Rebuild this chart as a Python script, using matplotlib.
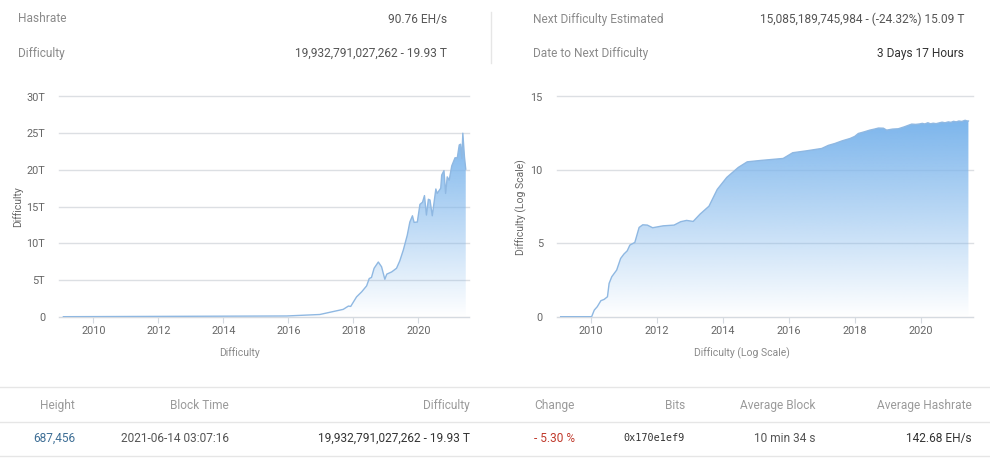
import numpy as np
import matplotlib
matplotlib.use('Agg')
import matplotlib.pyplot as plt

plt.rcParams['font.family'] = ['Roboto', 'DejaVu Sans']

W, H = 990, 461

# Difficulty in T
diff_years = [2009.08, 2015.95, 2016.97, 2017.38, 2017.69, 2017.85, 2017.92, 2018.1, 2018.26, 2018.41,
              2018.49, 2018.56, 2018.64, 2018.77, 2018.87, 2018.97, 2019.03, 2019.18, 2019.33, 2019.43,
              2019.54, 2019.66, 2019.74, 2019.82, 2019.87, 2019.97, 2020.05, 2020.13, 2020.19, 2020.25,
              2020.31, 2020.36, 2020.43, 2020.49, 2020.54, 2020.58, 2020.69, 2020.72, 2020.79, 2020.84,
              2020.89, 2020.95, 2021.03, 2021.13, 2021.2, 2021.26, 2021.3, 2021.34, 2021.37, 2021.42, 2021.46]
diff_values = [0.0, 0.1, 0.3, 0.7, 1.0, 1.45, 1.4, 2.7, 3.4, 4.2,
               5.2, 5.35, 6.6, 7.45, 6.8, 5.1, 5.8, 6.1, 6.6, 7.6,
               9.1, 11.1, 12.9, 13.75, 12.85, 12.9, 15.3, 15.6, 16.5, 13.85,
               16.0, 15.9, 13.75, 15.75, 17.4, 16.8, 17.5, 19.3, 19.9, 16.8,
               19.05, 18.6, 20.55, 21.65, 21.65, 23.4, 23.5, 21.55, 25.0, 21.8, 20.1]

# Difficulty, log scale
log_years = [2009.08, 2010.02, 2010.1, 2010.19, 2010.3, 2010.4, 2010.5, 2010.55, 2010.63, 2010.78,
             2010.9, 2011.0, 2011.1, 2011.18, 2011.33, 2011.46, 2011.57, 2011.71, 2011.87, 2012.19,
             2012.52, 2012.72, 2012.9, 2013.1, 2013.31, 2013.58, 2013.83, 2014.12, 2014.47, 2014.74,
             2015.13, 2015.83, 2016.12, 2016.54, 2017.0, 2017.2, 2017.4, 2017.62, 2017.86, 2018.0,
             2018.11, 2018.3, 2018.46, 2018.6, 2018.72, 2018.87, 2018.97, 2019.15, 2019.32, 2019.5,
             2019.62, 2019.73, 2019.85, 2019.97, 2020.05, 2020.13, 2020.22, 2020.3, 2020.38, 2020.47,
             2020.56, 2020.65, 2020.74, 2020.84, 2020.92, 2021.0, 2021.08, 2021.16, 2021.25, 2021.35,
             2021.4, 2021.45]
log_values = [0.0, 0.0, 0.45, 0.68, 1.09, 1.18, 1.36, 2.27, 2.72, 3.18,
              3.97, 4.27, 4.49, 4.88, 5.06, 6.08, 6.26, 6.24, 6.06, 6.19,
              6.24, 6.47, 6.56, 6.49, 6.99, 7.53, 8.67, 9.49, 10.17, 10.55,
              10.64, 10.78, 11.17, 11.3, 11.46, 11.67, 11.8, 11.98, 12.14, 12.28,
              12.48, 12.6, 12.71, 12.78, 12.85, 12.84, 12.71, 12.78, 12.8, 12.93,
              13.03, 13.12, 13.1, 13.13, 13.17, 13.13, 13.21, 13.14, 13.18, 13.15,
              13.2, 13.25, 13.21, 13.27, 13.24, 13.31, 13.27, 13.33, 13.3, 13.38,
              13.34, 13.33]

year_ticks = [2010, 2012, 2014, 2016, 2018, 2020]
diff_ticks = [0, 5, 10, 15, 20, 25, 30]
diff_labels = ['0', '5T', '10T', '15T', '20T', '25T', '30T']
log_ticks = [0, 5, 10, 15]

table_head = ['Height', 'Block Time', 'Difficulty', 'Change', 'Bits', 'Average Block', 'Average Hashrate']
table_row = ['687,456', '2021-06-14 03:07:16', '19,932,791,027,262 - 19.93 T', '- 5.30 %',
             '0x170e1ef9', '10 min 34 s', '142.68 EH/s']
table_right = [75, 229, 470, 575, 685, 816, 972]
row_colors = ['#3f6f96', '#555555', '#333333', '#c0392b', '#333333', '#555555', '#333333']

GRAY = '#8a8a8a'
BLUE = (124 / 255, 181 / 255, 236 / 255)


def px_axes(fig, left, right, top, bottom):
    return fig.add_axes([left / W, 1 - bottom / H, (right - left) / W, (bottom - top) / H])


def area_chart(ax, years, values, xlim, ylim, yticks, ylabels, xlabel, ylabel, xlabel_x, ylabel_x):
    ax.set_facecolor('none')
    # gradient goes from the top of the series down to the baseline
    grad = np.zeros((256, 1, 4))
    grad[..., 0], grad[..., 1], grad[..., 2] = BLUE
    grad[:, 0, 3] = np.linspace(1, 0, 256)
    im = ax.imshow(grad, extent=[years[0], years[-1], 0, max(values)], aspect='auto', zorder=2)
    poly = ax.fill_between(years, values, 0, facecolor='none', edgecolor='none')
    im.set_clip_path(poly.get_paths()[0], transform=ax.transData)
    ax.plot(years, values, color='#8fb8e2', lw=1.0, zorder=3)
    ax.set_xlim(*xlim)
    ax.set_ylim(*ylim)
    ax.set_xticks(year_ticks)
    ax.set_yticks(yticks)
    ax.set_yticklabels(ylabels)
    ax.grid(axis='y', color='#dcdfe3', lw=1)
    ax.set_axisbelow(True)
    # top gridline sits on the axes edge, don't cut it in half
    for line in ax.get_ygridlines():
        line.set_clip_on(False)
    for name in ['top', 'left', 'right']:
        ax.spines[name].set_visible(False)
    ax.spines['bottom'].set_color('#d5dae0')
    ax.tick_params(axis='x', length=4, color='#d5dae0', labelcolor='#666666', labelsize=7.8, pad=3)
    ax.tick_params(axis='y', length=0, labelcolor='#666666', labelsize=7.8, pad=10)
    ax.set_xlabel(xlabel, color=GRAY, fontsize=7.5)
    ax.set_ylabel(ylabel, color='#666666', fontsize=7.5)
    # label spots are given in pixels of the figure
    ax.xaxis.set_label_coords(xlabel_x / W, 1 - 353 / H, transform=fig.transFigure)
    ax.yaxis.set_label_coords(ylabel_x / W, 1 - 207 / H, transform=fig.transFigure)
    ax.xaxis.label.set_va('center')
    ax.yaxis.label.set_va('center')


fig = plt.figure(figsize=(W / 100, H / 100), dpi=100)

ax1 = px_axes(fig, 59, 469, 96.5, 316.7)
area_chart(ax1, diff_years, diff_values, (2008.945, 2021.56), (0, 30),
           diff_ticks, diff_labels, 'Difficulty', 'Difficulty', 239, 18)

ax2 = px_axes(fig, 556.7, 972.7, 96.5, 316.7)
area_chart(ax2, log_years, log_values, (2008.96, 2021.58), (0, 15),
           log_ticks, [str(t) for t in log_ticks], 'Difficulty (Log Scale)', 'Difficulty (Log Scale)', 742, 521)


def put(x, y, s, color='#555555', size=8.6, ha='left', **kw):
    fig.text(x / W, 1 - y / H, s, color=color, fontsize=size, ha=ha, va='center', **kw)


def hline(y, x0=0, x1=W):
    fig.add_artist(plt.Line2D([x0 / W, x1 / W], [1 - y / H, 1 - y / H], color='#e6e6e6', lw=1))


# header block
put(18, 19, 'Hashrate', GRAY)
put(18, 53, 'Difficulty', GRAY)
put(447, 19, '90.76 EH/s', ha='right')
put(447, 53, '19,932,791,027,262 - 19.93 T', ha='right')
put(533, 19, 'Next Difficulty Estimated', GRAY)
put(533, 53, 'Date to Next Difficulty', GRAY)
put(964, 19, '15,085,189,745,984 - (-24.32%) 15.09 T', ha='right')
put(964, 53, '3 Days 17 Hours', '#333333', ha='right')
fig.add_artist(plt.Line2D([491 / W, 491 / W], [1 - 12 / H, 1 - 63 / H], color='#e6e6e6', lw=1))

# table under the charts
hline(387)
hline(422)
hline(456)
for x, head, cell, col in zip(table_right, table_head, table_row, row_colors):
    put(x, 405, head, '#9a9a9a', ha='right')
    if cell.startswith('0x'):
        put(x, 438, cell, col, size=7.3, ha='right', family='DejaVu Sans Mono')
    else:
        put(x, 438, cell, col, ha='right')

fig.savefig('out.png', dpi=100)
